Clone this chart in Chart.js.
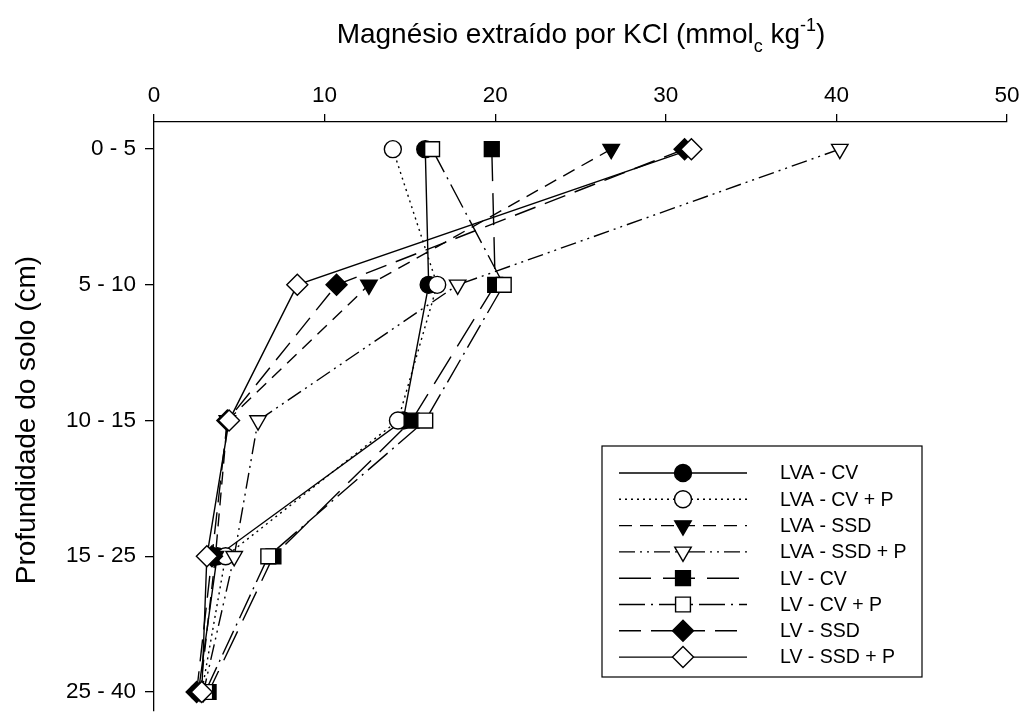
<!DOCTYPE html>
<html>
<head>
<meta charset="utf-8">
<script src="https://cdn.jsdelivr.net/npm/chart.js@4/dist/chart.umd.min.js"></script>
<style>
  html, body { margin: 0; padding: 0; background: #fff; }
  #wrap { width: 1021px; height: 713px; }
</style>
</head>
<body>
<div id="wrap"><canvas id="c" width="1021" height="713"></canvas></div>
<script>
// Soil depth layers (cm), top to bottom
const depthLabels = ['0 - 5', '5 - 10', '10 - 15', '15 - 25', '25 - 40'];

// KCl-extractable Mg (mmolc kg-1) for each treatment, per depth layer
const lvaCv   = [15.9, 16.1, 14.6, 3.7, 2.6];
const lvaCvP  = [14.0, 16.6, 14.3, 4.2, 2.8];
const lvaSsd  = [26.8, 12.6, 4.3, 3.6, 2.7];
const lvaSsdP = [40.2, 17.8, 6.1, 4.7, 2.9];
const lvCv    = [19.8, 20.0, 15.1, 7.0, 3.2];
const lvCvP   = [16.3, 20.5, 15.9, 6.7, 3.0];
const lvSsd   = [31.1, 10.7, 4.3, 3.4, 2.5];
const lvSsdP  = [31.5, 8.4, 4.4, 3.1, 2.8];

const xTicks = [0, 10, 20, 30, 40, 50];

const FONT = '"Liberation Sans", Arial, sans-serif';
const INK = '#000';

const seriesDefs = [
  { label: 'LVA - CV',       values: lvaCv,   style: 'circle',   rot: 0,   fill: INK,    dash: [],                 r: 8.5 },
  { label: 'LVA - CV + P',   values: lvaCvP,  style: 'circle',   rot: 0,   fill: '#fff', dash: [2, 4],             r: 8.5 },
  { label: 'LVA - SSD',      values: lvaSsd,  style: 'triangle', rot: 180, fill: INK,    dash: [13, 8],            r: 9.5 },
  { label: 'LVA - SSD + P',  values: lvaSsdP, style: 'triangle', rot: 180, fill: '#fff', dash: [16, 5, 2, 5, 2, 5], r: 9.5 },
  { label: 'LV - CV',        values: lvCv,    style: 'rect',     rot: 0,   fill: INK,    dash: [32, 12],           r: 10.5 },
  { label: 'LV - CV + P',    values: lvCvP,   style: 'rect',     rot: 0,   fill: '#fff', dash: [26, 6, 2, 6],      r: 10.5 },
  { label: 'LV - SSD',       values: lvSsd,   style: 'rectRot',  rot: 0,   fill: INK,    dash: [22, 10],           r: 10.5 },
  { label: 'LV - SSD + P',   values: lvSsdP,  style: 'rectRot',  rot: 0,   fill: '#fff', dash: [],                 r: 10.5 }
];

const datasets = seriesDefs.map((s, i) => ({
  label: s.label,
  data: s.values.map((v, k) => ({ x: v, y: k })),
  showLine: true,
  borderColor: INK,
  backgroundColor: s.fill,
  borderWidth: 1.4,
  borderDash: s.dash,
  pointStyle: s.style,
  pointRotation: s.rot,
  pointRadius: s.r,
  pointHoverRadius: s.r,
  pointBackgroundColor: s.fill,
  pointBorderColor: INK,
  pointBorderWidth: 1.4,
  order: seriesDefs.length - i,
  clip: false
}));

// Axis titles (with sub/superscript) and the in-plot legend box
const decorations = {
  id: 'decorations',
  afterDraw(chart) {
    const ctx = chart.ctx;
    ctx.save();
    ctx.fillStyle = INK;
    ctx.textBaseline = 'alphabetic';

    // top title
    const big = '28px ' + FONT, small = '18px ' + FONT;
    const parts = [
      { t: 'Magnésio extraído por KCl (mmol', f: big, dy: 0 },
      { t: 'c', f: small, dy: 9 },
      { t: ' kg', f: big, dy: 0 },
      { t: '-1', f: small, dy: -12 },
      { t: ')', f: big, dy: 0 }
    ];
    let total = 0;
    parts.forEach(p => { ctx.font = p.f; p.w = ctx.measureText(p.t).width; total += p.w; });
    let x = 581 - total / 2;
    const base = 43;
    ctx.textAlign = 'left';
    parts.forEach(p => { ctx.font = p.f; ctx.fillText(p.t, x, base + p.dy); x += p.w; });

    // left title
    ctx.save();
    ctx.translate(27, 420);
    ctx.rotate(-Math.PI / 2);
    ctx.font = '28px ' + FONT;
    ctx.textAlign = 'center';
    ctx.textBaseline = 'middle';
    ctx.fillText('Profundidade do solo (cm)', 0, 0);
    ctx.restore();

    // legend
    const bx = 602, by = 446, bw = 320, bh = 231;
    ctx.fillStyle = '#fff';
    ctx.fillRect(bx, by, bw, bh);
    ctx.strokeStyle = INK;
    ctx.lineWidth = 1.2;
    ctx.strokeRect(bx, by, bw, bh);
    const rowY0 = 473, rowStep = 26.3;
    seriesDefs.forEach((s, i) => {
      const y = rowY0 + i * rowStep;
      ctx.save();
      ctx.strokeStyle = INK;
      ctx.lineWidth = 1.4;
      ctx.setLineDash(s.dash);
      ctx.beginPath();
      ctx.moveTo(619, y);
      ctx.lineTo(747, y);
      ctx.stroke();
      ctx.setLineDash([]);
      ctx.fillStyle = s.fill;
      ctx.strokeStyle = INK;
      ctx.lineWidth = 1.4;
      Chart.helpers.drawPoint(ctx, { pointStyle: s.style, rotation: s.rot, radius: s.r, borderWidth: 1.4 }, 683, y);
      ctx.restore();
      ctx.fillStyle = INK;
      ctx.font = '19.5px ' + FONT;
      ctx.textAlign = 'left';
      ctx.textBaseline = 'middle';
      ctx.fillText(s.label, 780, y + 1);
    });
    ctx.restore();
  }
};

new Chart(document.getElementById('c'), {
  type: 'scatter',
  data: { datasets },
  options: {
    responsive: false,
    devicePixelRatio: 1,
    animation: false,
    events: [],
    layout: { autoPadding: false, padding: { left: 0, top: 0, right: 14, bottom: 2 } },
    plugins: { legend: { display: false }, tooltip: { enabled: false }, title: { display: false } },
    scales: {
      x: {
        type: 'linear',
        position: 'top',
        min: 0,
        max: 50,
        afterFit(scale) { scale.height = 122; scale.paddingLeft = 0; scale.paddingRight = 0; },
        afterBuildTicks(scale) { scale.ticks = xTicks.map(v => ({ value: v })); },
        ticks: { color: INK, font: { family: FONT, size: 22.5 }, padding: 5, maxRotation: 0 },
        grid: { drawOnChartArea: false, drawTicks: true, tickLength: 8, color: INK, lineWidth: 1.3 },
        border: { display: true, color: INK, width: 1.3 }
      },
      y: {
        type: 'linear',
        position: 'left',
        reverse: true,
        min: -0.2,
        max: 4.14,
        afterFit(scale) { scale.width = 154; scale.paddingTop = 0; scale.paddingBottom = 0; },
        afterBuildTicks(scale) { scale.ticks = depthLabels.map((_, i) => ({ value: i })); },
        ticks: {
          color: INK,
          font: { family: FONT, size: 22.5 },
          padding: 9,
          callback: (v) => depthLabels[v] !== undefined ? depthLabels[v] : ''
        },
        grid: { drawOnChartArea: false, drawTicks: true, tickLength: 9, color: INK, lineWidth: 1.3 },
        border: { display: true, color: INK, width: 1.3 }
      }
    }
  },
  plugins: [decorations]
});
</script>
</body>
</html>
